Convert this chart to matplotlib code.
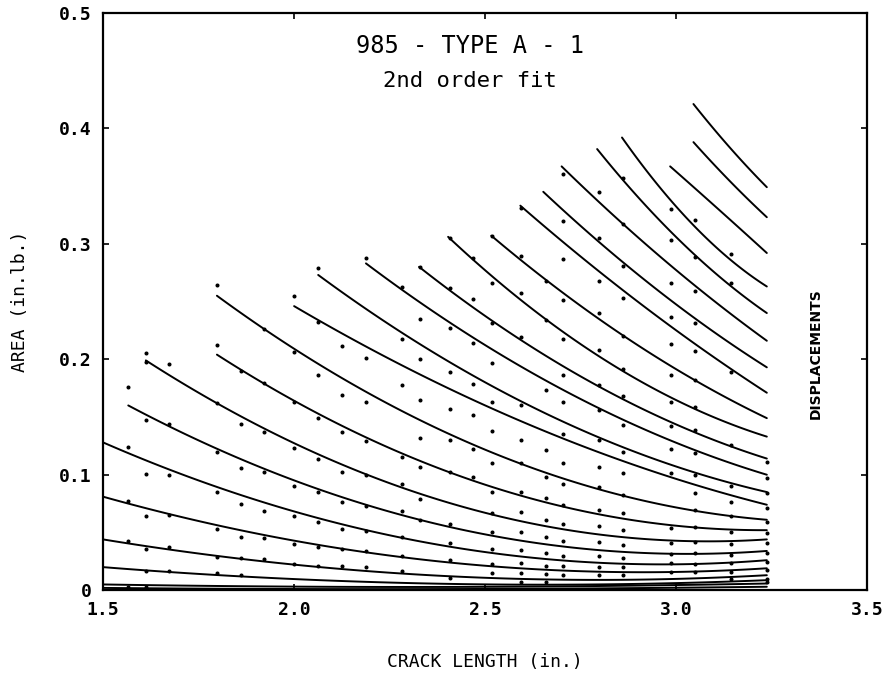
import matplotlib
matplotlib.use("Agg")
import matplotlib.pyplot as plt
import numpy as np

# Fitted curves, one per displacement level: start point, one point along
# the curve and the value at the last crack length.
X_END = 3.237
CURVE_X0 = [1.5, 1.5, 1.5, 1.5, 1.5, 1.5, 1.566, 1.612, 1.798, 1.798,
            2.0, 2.063, 2.188, 2.327, 2.403, 2.516, 2.592, 2.652, 2.70,
            2.793, 2.858, 2.984, 3.045, 3.045]
CURVE_Y0 = [0.002, 0.005, 0.020, 0.044, 0.081, 0.128, 0.160, 0.199, 0.204,
            0.255, 0.246, 0.273, 0.283, 0.280, 0.306, 0.307, 0.333, 0.345,
            0.367, 0.382, 0.392, 0.367, 0.388, 0.421]
CURVE_XM = [2.068, 2.068, 2.068, 2.068, 2.068, 2.068, 2.068, 2.068, 2.068,
            2.068, 2.5, 2.5, 2.592, 2.539, 2.539, 2.877, 3.063, 3.063,
            3.063, 3.063, 3.063, 3.110, 3.141, 3.141]
CURVE_YM = [0.001, 0.003, 0.0087, 0.020, 0.039, 0.062, 0.087, 0.117, 0.152,
            0.195, 0.160, 0.180, 0.194, 0.2286, 0.266, 0.217, 0.210, 0.232,
            0.260, 0.286, 0.310, 0.330, 0.354, 0.383]
CURVE_YEND = [0.003, 0.0058, 0.0087, 0.013, 0.019, 0.026, 0.034, 0.044,
              0.052, 0.061, 0.074, 0.085, 0.100, 0.114, 0.133, 0.149, 0.171,
              0.193, 0.216, 0.240, 0.263, 0.292, 0.323, 0.349]

# Measured points, grouped by crack length
DOT_X = [1.565, 1.612, 1.673, 1.798, 1.861, 1.921, 2.0, 2.063, 2.126, 2.188,
         2.282, 2.330, 2.408, 2.469, 2.518, 2.594, 2.659, 2.703, 2.798,
         2.861, 2.986, 3.050, 3.142, 3.237]
DOT_Y = [
    [0.176, 0.124, 0.077, 0.043, 0.003],
    [0.2055, 0.198, 0.147, 0.101, 0.064, 0.036, 0.0165, 0.003],
    [0.196, 0.144, 0.100, 0.065, 0.037, 0.0165],
    [0.264, 0.2127, 0.162, 0.120, 0.085, 0.053, 0.029, 0.0145],
    [0.190, 0.144, 0.106, 0.075, 0.046, 0.028, 0.013],
    [0.2266, 0.179, 0.137, 0.102, 0.069, 0.045, 0.027],
    [0.2546, 0.206, 0.163, 0.123, 0.0905, 0.0645, 0.040, 0.023],
    [0.279, 0.232, 0.186, 0.149, 0.114, 0.085, 0.059, 0.037, 0.021],
    [0.2118, 0.169, 0.1366, 0.102, 0.0767, 0.053, 0.036, 0.021],
    [0.2873, 0.201, 0.1626, 0.129, 0.0998, 0.073, 0.0515, 0.034, 0.020],
    [0.2624, 0.2176, 0.178, 0.115, 0.092, 0.0686, 0.046, 0.030, 0.017],
    [0.280, 0.2352, 0.2005, 0.165, 0.1317, 0.107, 0.079, 0.061],
    [0.305, 0.2619, 0.227, 0.1887, 0.157, 0.130, 0.102, 0.057, 0.0405,
     0.0266, 0.0107],
    [0.288, 0.2526, 0.214, 0.1786, 0.152, 0.122, 0.098],
    [0.3067, 0.266, 0.231, 0.197, 0.1626, 0.138, 0.1105, 0.0853, 0.067,
     0.0506, 0.036, 0.023, 0.0145],
    [0.331, 0.289, 0.2575, 0.219, 0.160, 0.130, 0.11, 0.085, 0.0674, 0.0506,
     0.0347, 0.0237, 0.0145, 0.007],
    [0.2676, 0.234, 0.1736, 0.1215, 0.0978, 0.0796, 0.0608, 0.0463, 0.0318,
     0.021, 0.0139, 0.007],
    [0.360, 0.3197, 0.287, 0.251, 0.2176, 0.1866, 0.1626, 0.1354, 0.1105,
     0.092, 0.0738, 0.0573, 0.0428, 0.0295, 0.0208, 0.013],
    [0.345, 0.305, 0.2676, 0.240, 0.2077, 0.178, 0.1557, 0.130, 0.1065,
     0.0891, 0.0694, 0.0556, 0.042, 0.0295, 0.0203, 0.013],
    [0.357, 0.317, 0.281, 0.2532, 0.2205, 0.1916, 0.1678, 0.1432, 0.1195,
     0.1018, 0.0825, 0.0666, 0.052, 0.039, 0.028, 0.0197, 0.013],
    [0.3305, 0.3029, 0.266, 0.237, 0.2135, 0.1866, 0.1626, 0.1424, 0.1221,
     0.1018, 0.0535, 0.0405, 0.0312, 0.0237, 0.0159],
    [0.321, 0.2885, 0.259, 0.2315, 0.2068, 0.1823, 0.159, 0.1389, 0.1187,
     0.0998, 0.084, 0.0694, 0.055, 0.042, 0.0318, 0.0231, 0.0159],
    [0.291, 0.266, 0.1887, 0.1259, 0.0903, 0.0767, 0.0642, 0.0506, 0.0397,
     0.0304, 0.0237, 0.0159, 0.010],
    [0.1114, 0.097, 0.084, 0.0709, 0.0593, 0.0492, 0.0405, 0.0318, 0.0246,
     0.0174, 0.0101, 0.007],
]

X_TICKS = [1.5, 2.0, 2.5, 3.0, 3.5]
X_TICK_LABELS = ["1.5", "2.0", "2.5", "3.0", "3.5"]
Y_TICKS = [0.0, 0.1, 0.2, 0.3, 0.4, 0.5]
Y_TICK_LABELS = ["0", "0.1", "0.2", "0.3", "0.4", "0.5"]

MONO = "DejaVu Sans Mono"

fig = plt.figure(figsize=(8.96, 6.73), dpi=100)
ax = fig.add_axes([0.115, 0.123, 0.853, 0.858])

for x0, y0, xm, ym, ye in zip(CURVE_X0, CURVE_Y0, CURVE_XM, CURVE_YM, CURVE_YEND):
    coef = np.polyfit([x0, xm, X_END], [y0, ym, ye], 2)
    xs = np.linspace(x0, X_END, 120)
    ax.plot(xs, np.polyval(coef, xs), color="black", linewidth=1.4,
            solid_capstyle="round")

for x, ys in zip(DOT_X, DOT_Y):
    ax.plot([x] * len(ys), ys, linestyle="none", marker="o", markersize=1.9,
            color="black")

ax.set_xlim(1.5, 3.5)
ax.set_ylim(0.0, 0.5)
ax.set_xticks(X_TICKS)
ax.set_xticklabels(X_TICK_LABELS)
ax.set_yticks(Y_TICKS)
ax.set_yticklabels(Y_TICK_LABELS)
ax.tick_params(direction="in", length=4, width=1.2, top=True, right=True,
               labelsize=13, pad=8)
for lab in ax.get_xticklabels() + ax.get_yticklabels():
    lab.set_family(MONO)
    lab.set_fontweight("bold")
for sp in ax.spines.values():
    sp.set_linewidth(1.6)

ax.text(0.48, 0.942, "985 - TYPE A - 1", transform=ax.transAxes,
        ha="center", va="center", fontsize=17, family=MONO)
ax.text(0.48, 0.882, "2nd order fit", transform=ax.transAxes,
        ha="center", va="center", fontsize=16, family=MONO)
ax.text(0.932, 0.41, "DISPLACEMENTS", transform=ax.transAxes, rotation=90,
        ha="center", va="center", fontsize=10, fontweight="bold")

ax.set_xlabel("CRACK LENGTH (in.)", family=MONO, fontsize=13, labelpad=24)
ax.set_ylabel("AREA (in.lb.)", family=MONO, fontsize=13, labelpad=22)

fig.savefig("out.png", dpi=100)
